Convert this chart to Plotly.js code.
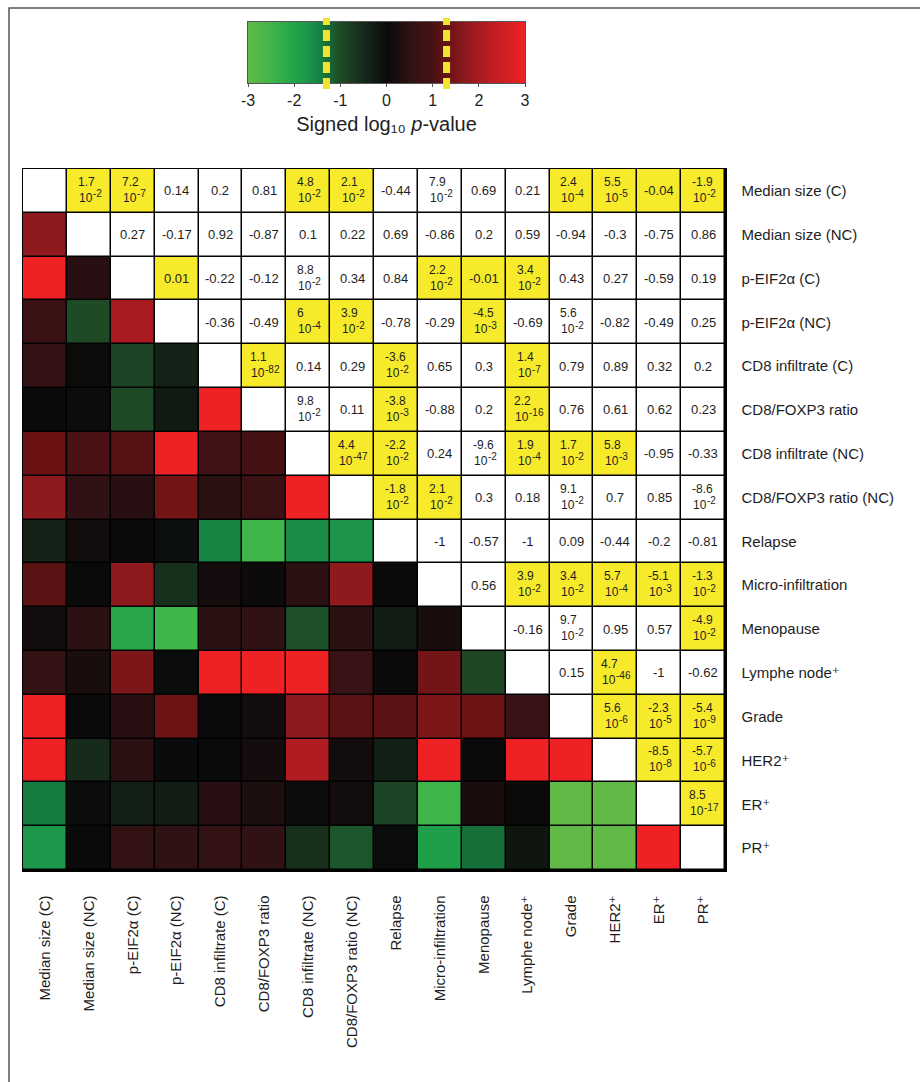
<!DOCTYPE html>
<html>
<head>
<meta charset="utf-8">
<script src="https://cdn.plot.ly/plotly-3.0.1.min.js"></script>
<style>html,body{margin:0;padding:0;background:#fff;}#chart{width:920px;height:1082px;}</style>
</head>
<body>
<div id="chart"></div>
<script>
// ---------- DATA ----------
const labels = [
  "Median size (C)", "Median size (NC)", "p-EIF2α (C)", "p-EIF2α (NC)",
  "CD8 infiltrate (C)", "CD8/FOXP3 ratio", "CD8 infiltrate (NC)", "CD8/FOXP3 ratio (NC)",
  "Relapse", "Micro-infiltration", "Menopause", "Lymphe node⁺",
  "Grade", "HER2⁺", "ER⁺", "PR⁺"
];

// Upper triangle: row i lists cells j = i+1 .. 15 ("m e x" means m × 10^x)
const upperText = [
  ["1.7e-2","7.2e-7","0.14","0.2","0.81","4.8e-2","2.1e-2","-0.44","7.9e-2","0.69","0.21","2.4e-4","5.5e-5","-0.04","-1.9e-2"],
  ["0.27","-0.17","0.92","-0.87","0.1","0.22","0.69","-0.86","0.2","0.59","-0.94","-0.3","-0.75","0.86"],
  ["0.01","-0.22","-0.12","8.8e-2","0.34","0.84","2.2e-2","-0.01","3.4e-2","0.43","0.27","-0.59","0.19"],
  ["-0.36","-0.49","6e-4","3.9e-2","-0.78","-0.29","-4.5e-3","-0.69","5.6e-2","-0.82","-0.49","0.25"],
  ["1.1e-82","0.14","0.29","-3.6e-2","0.65","0.3","1.4e-7","0.79","0.89","0.32","0.2"],
  ["9.8e-2","0.11","-3.8e-3","-0.88","0.2","2.2e-16","0.76","0.61","0.62","0.23"],
  ["4.4e-47","-2.2e-2","0.24","-9.6e-2","1.9e-4","1.7e-2","5.8e-3","-0.95","-0.33"],
  ["-1.8e-2","2.1e-2","0.3","0.18","9.1e-2","0.7","0.85","-8.6e-2"],
  ["-1","-0.57","-1","0.09","-0.44","-0.2","-0.81"],
  ["0.56","3.9e-2","3.4e-2","5.7e-4","-5.1e-3","-1.3e-2"],
  ["-0.16","9.7e-2","0.95","0.57","-4.9e-2"],
  ["0.15","4.7e-46","-1","-0.62"],
  ["5.6e-6","-2.3e-5","-5.4e-9"],
  ["-8.5e-8","-5.7e-6"],
  ["8.5e-17"]
];

// Significant (yellow) flags, same layout as upperText
const significant = [
  [1,1,0,0,0,1,1,0,0,0,0,1,1,1,1],
  [0,0,0,0,0,0,0,0,0,0,0,0,0,0],
  [1,0,0,0,0,0,1,1,1,0,0,0,0],
  [0,0,1,1,0,0,1,0,0,0,0,0],
  [1,0,0,1,0,0,1,0,0,0,0],
  [0,0,1,0,0,1,0,0,0,0],
  [1,1,0,0,1,1,1,0,0],
  [1,1,0,0,0,0,0,0],
  [0,0,0,0,0,0,0],
  [0,1,1,1,1,1],
  [0,0,0,0,1],
  [0,1,0,0],
  [1,1,1],
  [1,1],
  [1]
];

// Lower triangle: signed log10 p-value, row i lists cells j = 0 .. i-1
const signedLogP = [
  [],
  [1.7],
  [3, 0.4],
  [0.7, -1.0, 2.0],
  [0.6, 0.05, -0.9, -0.4],
  [0.03, -0.03, -1.0, -0.25, 3],
  [1.3, 1.0, 1.1, 3, 0.8, 0.9],
  [1.7, 0.5, 0.4, 1.4, 0.45, 0.7, 3],
  [-0.4, 0.1, 0, -0.1, -1.5, -2.5, -1.6, -1.7],
  [1.15, 0, 1.7, -0.6, 0.15, 0.02, 0.45, 1.7, 0],
  [0.1, 0.45, -2.1, -2.5, 0.45, 0.5, -1.05, 0.45, -0.3, 0.2],
  [0.6, 0.2, 1.5, -0.05, 3, 3, 3, 0.65, 0, 1.4, -0.95],
  [3, 0, 0.4, 1.35, 0.03, 0.1, 1.7, 1.15, 1.15, 1.5, 1.35, 0.65],
  [3, -0.55, 0.45, -0.02, 0, 0.15, 2.1, 0.12, -0.35, 3, 0, 3, 3],
  [-1.4, -0.05, -0.35, -0.3, 0.4, 0.25, -0.03, 0.1, -0.9, -2.5, 0.2, 0, -3, -3],
  [-1.75, 0, 0.55, 0.5, 0.55, 0.5, -0.6, -1.1, -0.05, -1.9, -1.3, -0.2, -3, -3, 3]
];

const colorbarTicks = [-3, -2, -1, 0, 1, 2, 3];
const colorbarTitle = "Signed log₁₀ <i>p</i>-value";
const threshold = 1.301; // -log10(0.05)

// ---------- BUILD ----------
const n = labels.length;
const idx = labels.map((_, i) => i);
const zLower = [], zUpper = [];
for (let i = 0; i < n; i++) {
  const lr = [], ur = [];
  for (let j = 0; j < n; j++) {
    if (j < i) { lr.push(signedLogP[i][j]); ur.push(null); }
    else if (j === i) { lr.push(null); ur.push(0); }
    else { lr.push(null); ur.push(significant[i][j - i - 1]); }
  }
  zLower.push(lr); zUpper.push(ur);
}

const FONT = "Liberation Sans, Arial, Helvetica, DejaVu Sans, sans-serif";
const TXT = "#1e1e1e";

const colorscale = [
  [0.0, "#62ba46"], [0.0833, "#40b54a"], [0.1667, "#22a44a"], [0.2167, "#1c944a"],
  [0.2667, "#157c40"], [0.3333, "#1e4a26"], [0.4167, "#16281a"], [0.5, "#0a0a0a"],
  [0.5833, "#301214"], [0.6667, "#4a1214"], [0.7167, "#6a1214"], [0.7833, "#8e1a1e"],
  [0.85, "#b01c20"], [1.0, "#ee2224"]
];

// geometry (pixels)
const W = 920, H = 1082;
const M = {l: 23, r: 195, t: 22, b: 212};
const pw = W - M.l - M.r, ph = H - M.t - M.b;
const px2x = p => (p - M.l) / pw;
const py2y = p => (H - M.b - p) / ph;
const matTop = 169;
const cbLeft = 248, cbRight = 525, cbBottom = 83;

const traces = [
  {
    type: "heatmap", z: zLower, x: idx, y: idx, xaxis: "x", yaxis: "y",
    colorscale: colorscale, zmin: -3, zmax: 3, xgap: 1.5, ygap: 1.5,
    showscale: false, hoverinfo: "skip"
  },
  {
    type: "heatmap", z: zUpper, x: idx, y: idx, xaxis: "x", yaxis: "y",
    colorscale: [[0, "#ffffff"], [1, "#f6ea2a"]], zmin: 0, zmax: 1,
    showscale: false, xgap: 1.5, ygap: 1.5, hoverinfo: "skip"
  },
  // colour scale bar
  {
    type: "heatmap", x: colorbarTicks, y: [0], z: [colorbarTicks], xaxis: "x2", yaxis: "y2",
    colorscale: colorscale, zmin: -3, zmax: 3, zsmooth: "best",
    showscale: false, hoverinfo: "skip"
  }
];

const annotations = [];
const SZ = 12, SUP = 10;
for (let i = 0; i < n; i++) {
  for (let j = i + 1; j < n; j++) {
    const t = upperText[i][j - i - 1];
    if (t.indexOf("e") >= 0) {
      const parts = t.split("e");
      // approximate width of the "10^x" line, to left-align both lines in a centred block
      const tenW = 14;
      const lineW = tenW + SUP * (0.333 + 0.556 * (parts[1].length - 1));
      const xs = -Math.round(lineW / 2);
      annotations.push({x: j, y: i, xref: "x", yref: "y", text: parts[0],
        xanchor: "left", xshift: xs - 1, yshift: 9, showarrow: false, borderpad: 0,
        font: {family: FONT, size: SZ, color: TXT}});
      annotations.push({x: j, y: i, xref: "x", yref: "y", text: "10",
        xanchor: "left", xshift: xs, yshift: -7, showarrow: false, borderpad: 0,
        font: {family: FONT, size: SZ, color: TXT}});
      annotations.push({x: j, y: i, xref: "x", yref: "y", text: parts[1],
        xanchor: "left", xshift: xs + tenW, yshift: -3, showarrow: false, borderpad: 0,
        font: {family: FONT, size: SUP, color: TXT}});
    } else {
      annotations.push({x: j, y: i, xref: "x", yref: "y", text: t, showarrow: false,
        font: {family: FONT, size: 13, color: TXT}});
    }
  }
}

const shapes = [];
// yellow dashed significance markers (p = 0.05) on the colour bar
[-threshold, threshold].forEach(v => {
  shapes.push({type: "line", xref: "x2", yref: "paper", x0: v, x1: v,
    y0: py2y(cbBottom + 6), y1: py2y(M.t - 4),
    line: {color: "#f3e432", width: 7, dash: "11px,5px"}});
});
// outer frame
shapes.push({type: "rect", xref: "paper", yref: "paper",
  x0: px2x(9), x1: px2x(960), y0: py2y(8), y1: py2y(1100),
  line: {color: "#555", width: 1.5}, fillcolor: "rgba(0,0,0,0)"});

const layout = {
  width: W, height: H,
  margin: {l: M.l, r: M.r, t: M.t, b: M.b, pad: 0, autoexpand: false},
  paper_bgcolor: "#ffffff", plot_bgcolor: "#000000",
  font: {family: FONT, color: TXT},
  showlegend: false,
  xaxis: {
    domain: [0, 1], anchor: "y",
    range: [-0.5, n - 0.5], tickmode: "array", tickvals: idx, ticktext: labels,
    tickangle: -90, ticks: "", showgrid: false, zeroline: false,
    showline: true, mirror: true, linecolor: "#000", linewidth: 1.5,
    tickfont: {family: FONT, size: 15, color: TXT}, ticklabelstandoff: 18, fixedrange: true
  },
  yaxis: {
    domain: [0, py2y(matTop)], anchor: "x",
    range: [n - 0.5, -0.5], side: "right", tickmode: "array", tickvals: idx, ticktext: labels,
    ticks: "", showgrid: false, zeroline: false,
    showline: true, mirror: true, linecolor: "#000", linewidth: 1.5,
    tickfont: {family: FONT, size: 15, color: TXT}, ticklabelstandoff: 12, fixedrange: true
  },
  xaxis2: {
    domain: [px2x(cbLeft), px2x(cbRight)], anchor: "y2",
    range: [-3, 3], tickmode: "array", tickvals: colorbarTicks, ticktext: colorbarTicks.map(String),
    ticks: "outside", ticklen: 3, tickcolor: "#555", showgrid: false, zeroline: false,
    showline: true, mirror: true, linecolor: "#555", linewidth: 1,
    tickfont: {family: FONT, size: 16, color: TXT}, automargin: false,
    title: {text: colorbarTitle, standoff: 8,
            font: {family: FONT, size: 20, color: TXT}},
    fixedrange: true
  },
  yaxis2: {
    domain: [py2y(cbBottom), 1], anchor: "x2", range: [-0.5, 0.5],
    showticklabels: false, ticks: "", showgrid: false, zeroline: false,
    showline: true, mirror: true, linecolor: "#555", linewidth: 1, fixedrange: true
  },
  annotations: annotations,
  shapes: shapes
};

Plotly.newPlot("chart", traces, layout, {displayModeBar: false, staticPlot: true});
</script>
</body>
</html>
